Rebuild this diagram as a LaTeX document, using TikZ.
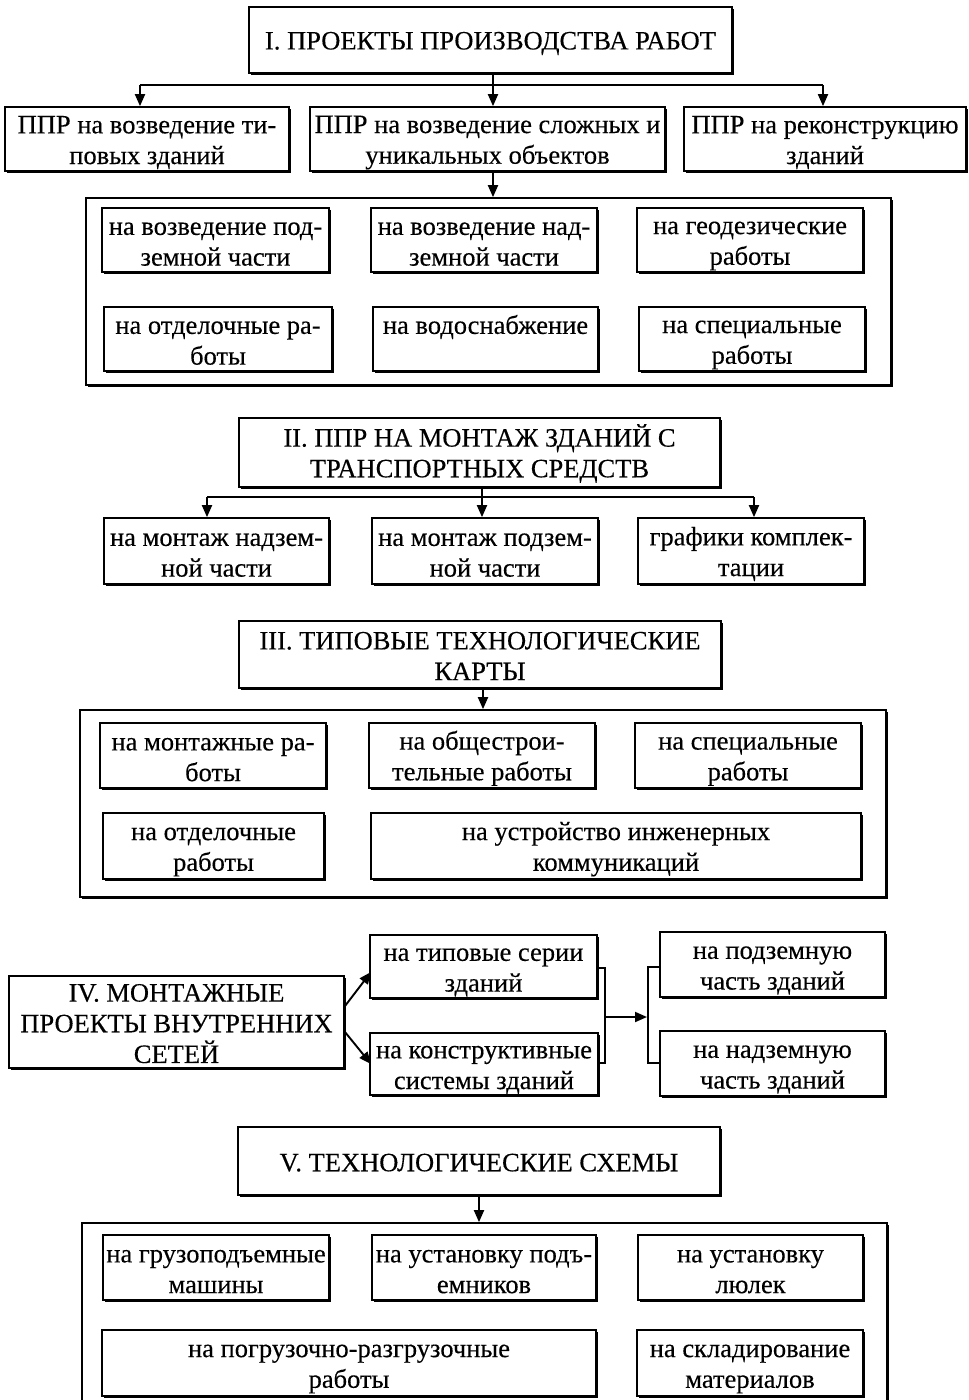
\documentclass[tikz,border=0pt]{standalone}
\usepackage{fontspec}
\setmainfont{Liberation Serif}[FakeBold=0.3]
\usetikzlibrary{arrows.meta,shadows}
\tikzset{
  box/.style={draw, line width=1.7pt, fill=white, inner sep=0pt, align=center,
    font=\fontsize{26.5}{30.7}\selectfont,
    drop shadow={shadow xshift=1.6pt, shadow yshift=-1.6pt, opacity=1, fill=black}},
  conn/.style={line width=1.9pt},
  arr/.style={conn, -{Triangle[length=12pt,width=10pt]}},
}
\newcommand{\bx}[6]{\node[box, minimum width={(#4-#2)*1pt}, minimum height={(#5-#3)*1pt}] (#1) at ({(#2+#4)/2},{(#3+#5)/2}) {\rule{0pt}{24.5pt}#6\rule[-4pt]{0pt}{4pt}};}
\newcommand{\fr}[5]{\node[box, minimum width={(#4-#2)*1pt}, minimum height={(#5-#3)*1pt}] (#1) at ({(#2+#4)/2},{(#3+#5)/2}) {};}
\begin{document}
\begin{tikzpicture}[x=1pt,y=-1pt]
\useasboundingbox[fill=white] (0,0) rectangle (969,1400);
% ---------- I ----------
\bx{t1}{249}{7}{732}{73}{I. ПРОЕКТЫ ПРОИЗВОДСТВА РАБОТ}
\bx{a1}{5}{107}{289}{171}{ППР на возведение ти-\\повых зданий}
\bx{a2}{310}{107}{665}{171}{ППР на возведение сложных и\\уникальных объектов}
\bx{a3}{684}{107}{966}{171}{ППР на реконструкцию\\зданий}
\coordinate (j1) at (493,85);
\coordinate (jl) at (140,85);
\coordinate (jr) at (823,85);
\draw[conn] (t1.south -| j1) -- (j1);
\draw[conn] (jl) -- (jr);
\draw[arr] (jl) -- (jl |- a1.north);
\draw[arr] (j1) -- (j1 |- a2.north);
\draw[arr] (jr) -- (jr |- a3.north);
\fr{c1}{86}{198}{891}{385}
\draw[arr] (a2.south -| j1) -- (c1.north -| j1);
\bx{b1}{102}{208}{329}{272}{на возведение под-\\земной части}
\bx{b2}{371}{208}{597}{272}{на возведение над-\\земной части}
\bx{b3}{637}{208}{863}{272}{на геодезические\\работы}
\bx{b4}{104}{307}{332}{371}{на отделочные ра-\\боты}
\bx{b5}{373}{307}{598}{371}{на водоснабжение\\\mbox{}}
\bx{b6}{639}{307}{865}{371}{на специальные\\работы}
% ---------- II ----------
\bx{t2}{239}{418}{720}{487}{II. ППР НА МОНТАЖ ЗДАНИЙ С\\ТРАНСПОРТНЫХ СРЕДСТВ}
\bx{d1}{104}{518}{329}{584}{на монтаж надзем-\\ной части}
\bx{d2}{372}{518}{598}{584}{на монтаж подзем-\\ной части}
\bx{d3}{638}{518}{864}{584}{графики комплек-\\тации}
\coordinate (k1) at (482,497);
\coordinate (kl) at (207,497);
\coordinate (kr) at (754,497);
\draw[conn] (t2.south -| k1) -- (k1);
\draw[conn] (kl) -- (kr);
\draw[arr] (kl) -- (kl |- d1.north);
\draw[arr] (k1) -- (k1 |- d2.north);
\draw[arr] (kr) -- (kr |- d3.north);
% ---------- III ----------
\bx{t3}{239}{621}{721}{688}{III. ТИПОВЫЕ ТЕХНОЛОГИЧЕСКИЕ\\КАРТЫ}
\fr{c3}{80}{710}{886}{897}
\coordinate (m3) at (483,700);
\draw[arr] (t3.south -| m3) -- (c3.north -| m3);
\bx{e1}{100}{723}{326}{788}{на монтажные ра-\\боты}
\bx{e2}{369}{723}{595}{788}{на общестрои-\\тельные работы}
\bx{e3}{635}{723}{861}{788}{на специальные\\работы}
\bx{e4}{103}{813}{324}{879}{на отделочные\\работы}
\bx{e5}{371}{813}{861}{879}{на устройство инженерных\\коммуникаций}
% ---------- IV ----------
\bx{t4}{9}{976}{344}{1068}{IV. МОНТАЖНЫЕ\\ПРОЕКТЫ ВНУТРЕННИХ\\СЕТЕЙ}
\bx{f1}{370}{935}{597}{998}{на типовые серии\\зданий}
\bx{f2}{370}{1033}{598}{1095}{на конструктивные\\системы зданий}
\bx{g1}{660}{932}{885}{997}{на подземную\\часть зданий}
\bx{g2}{660}{1031}{885}{1096}{на надземную\\часть зданий}
\coordinate (p1) at (345,1006);
\coordinate (q1) at (371,972);
\coordinate (p2) at (345,1032);
\coordinate (q2) at (371,1064);
\draw[arr] (p1) -- (q1);
\draw[arr] (p2) -- (q2);
\coordinate (r1) at (605,968);
\coordinate (r2) at (605,1063);
\draw[conn] (r1 -| f1.east) -- (r1) -- (r2) -- (r2 -| f2.east);
\coordinate (rm) at (605,1017);
\coordinate (rt) at (647,1017);
\draw[arr] (rm) -- (rt);
\coordinate (l1) at (648,967);
\coordinate (l2) at (648,1063);
\draw[conn] (l1 -| g1.west) -- (l1) -- (l2) -- (l2 -| g2.west);
% ---------- V ----------
\bx{t5}{238}{1127}{720}{1195}{V. ТЕХНОЛОГИЧЕСКИЕ СХЕМЫ}
\fr{c5}{82}{1223}{887}{1420}
\coordinate (m5) at (479,1210);
\draw[arr] (t5.south -| m5) -- (c5.north -| m5);
\bx{h1}{103}{1235}{329}{1300}{на грузоподъемные\\машины}
\bx{h2}{372}{1235}{596}{1300}{на установку подъ-\\емников}
\bx{h3}{638}{1235}{863}{1300}{на установку\\люлек}
\bx{h4}{102}{1330}{596}{1396}{на погрузочно-разгрузочные\\работы}
\bx{h5}{637}{1330}{863}{1396}{на складирование\\материалов}
\end{tikzpicture}
\end{document}
